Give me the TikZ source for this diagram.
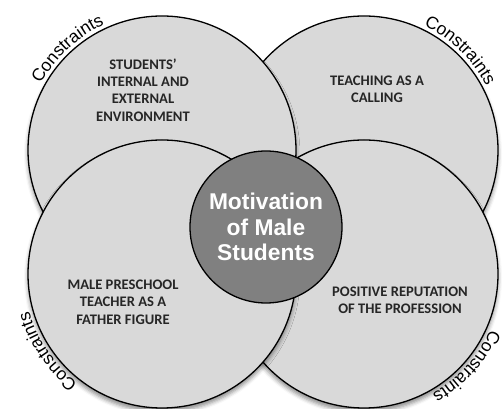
\documentclass[tikz,border=0pt]{standalone}
\usepackage{fontspec}
\setmainfont{Carlito}
\newfontfamily\arialfont{Liberation Sans}
\usetikzlibrary{decorations.text,shadows.blur}

\begin{document}
\begin{tikzpicture}[x=1pt, y=1pt]
\tikzset{
  bigcircle/.style={
    draw, circle, line width=1.3pt, fill=black!15,
    minimum size=268pt, inner sep=0pt,
    blur shadow={shadow xshift=0pt, shadow yshift=-4pt, shadow blur radius=4pt, shadow opacity=45}
  },
  midcircle/.style={
    draw, circle, line width=1.3pt, fill=black!50,
    minimum size=152pt, inner sep=0pt
  },
  label/.style={
    align=center, font=\fontsize{14.6}{17.3}\selectfont\bfseries, text=black!85
  },
  constraints/.style={
    decorate, decoration={text along path, text align=center,
      text={|\arialfont\fontsize{17.5}{18}\selectfont|Constraints}}
  }
}
\useasboundingbox (0,0) rectangle (504,409);

\node[bigcircle] (tr) at (364,259) {};
\node[bigcircle] (br) at (364,135) {};
\node[bigcircle] (tl) at (162,259) {};
\node[bigcircle] (bl) at (162,135) {};
\node[midcircle] (mid) at (266,182) {};

\node[label] (env) at (143,319) {STUDENTS’\\INTERNAL AND\\EXTERNAL\\ENVIRONMENT};
\node[label] (calling) at (377,320) {TEACHING AS A\\CALLING};
\node[label] (father) at (123,107) {MALE PRESCHOOL\\TEACHER AS A\\FATHER FIGURE};
\node[label] (reput) at (400,109) {POSITIVE REPUTATION\\OF THE PROFESSION};
\node[align=center, text=white, font=\arialfont\fontsize{22.8}{25.5}\selectfont\bfseries] (motiv) at (mid) {Motivation\\of Male\\Students};

\path[constraints] ([shift={(168:138)}]tl.center) arc[start angle=168, end angle=98, radius=138];
\path[constraints] ([shift={(81:138)}]tr.center) arc[start angle=81, end angle=11, radius=138];
\path[constraints] ([shift={(249:138)}]bl.center) arc[start angle=249, end angle=179, radius=138];
\path[constraints] ([shift={(353:138)}]br.center) arc[start angle=353, end angle=283, radius=138];
\end{tikzpicture}
\end{document}
